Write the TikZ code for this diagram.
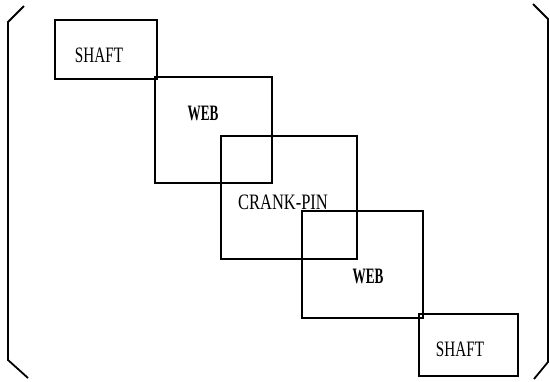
\documentclass[tikz,border=0pt]{standalone}
\usepackage{graphicx}
\usepackage{fontspec}
\setmainfont{Liberation Serif}
\begin{document}
\begin{tikzpicture}[x=1pt,y=-1pt,
  part/.style={draw, line width=2pt, line join=miter},
  lbl/.style={inner sep=0pt, font=\fontsize{22}{22}\selectfont},
  brk/.style={draw, line width=1.8pt}]
\useasboundingbox (0,0) rectangle (550,381);
% parts
\draw[part] (55,20) rectangle (157,79);
\draw[part] (155,77) rectangle (272,183);
\draw[part] (221,136) rectangle (357,259);
\draw[part] (302,211) rectangle (423,318);
\draw[part] (419,314) rectangle (518,376);
% labels
\node[lbl] (s1) at (99,55) {\scalebox{0.69}[1]{SHAFT}};
\node[lbl] (w1) at (203,113) {\scalebox{0.6}[1]{\bfseries WEB}};
\node[lbl] (cp) at (283,202) {\scalebox{0.75}[1]{CRANK-PIN}};
\node[lbl] (w2) at (368,276) {\scalebox{0.6}[1]{\bfseries WEB}};
\node[lbl] (s2) at (460,349) {\scalebox{0.69}[1]{SHAFT}};
% brackets
\coordinate (la) at (24,6);
\coordinate (lb) at (8,22);
\coordinate (lc) at (8,360);
\coordinate (ld) at (28,378);
\draw[brk] (la) -- (lb) -- (lc) -- (ld);
\coordinate (ra) at (533,4);
\coordinate (rb) at (548,19);
\coordinate (rc) at (548,362);
\coordinate (rd) at (534,379);
\draw[brk] (ra) -- (rb) -- (rc) -- (rd);
\end{tikzpicture}
\end{document}
